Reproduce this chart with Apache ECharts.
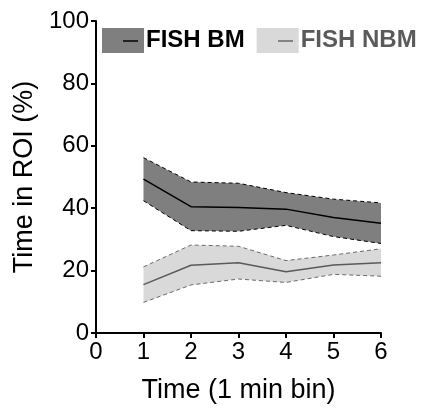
<!DOCTYPE html>
<html lang="en">
<head>
  <meta charset="UTF-8">
  <title>Time in ROI</title>
  <script src="https://cdn.jsdelivr.net/npm/echarts@6/dist/echarts.min.js"></script>
</head>
<body style="margin:0">
  <div id="app" style="width: 428px; height: 410px;"></div>
  <script>
    // x categories (minutes) and values
    var timeBins = ['0', '1', '2', '3', '4', '5', '6']
    var bmMean  = [49.3, 40.5, 40.2, 39.7, 37.0, 35.2]
    var bmUpper = [56.2, 48.4, 48.0, 45.0, 42.9, 41.7]
    var bmLower = [42.4, 32.8, 32.6, 34.5, 30.9, 28.7]
    var nbmMean  = [15.5, 21.7, 22.5, 19.6, 21.8, 22.5]
    var nbmUpper = [21.2, 28.2, 27.8, 23.2, 25.0, 27.0]
    var nbmLower = [9.8, 15.4, 17.3, 16.2, 18.8, 18.2]
    var yTicks = [0, 20, 40, 60, 80, 100]

    // bin 0 has no measurement
    function pad(arr) { return [null].concat(arr) }
    function diff(a, b) { return a.map(function (v, i) { return v - b[i] }) }

    var font = 'Liberation Sans, Arial, sans-serif'

    function band(name, stack, lower, upper, fill, z) {
      return [
        { type: 'line', stack: stack, data: pad(lower), symbol: 'none', silent: true,
          lineStyle: { width: 0 }, z: z },
        { name: name, type: 'line', stack: stack, data: pad(diff(upper, lower)), symbol: 'none',
          itemStyle: { color: fill }, lineStyle: { width: 0 },
          areaStyle: { color: fill, opacity: 1 }, z: z }
      ]
    }
    function edge(data, color, dashed, width) {
      return { type: 'line', data: pad(data), symbol: 'none', z: 5,
        lineStyle: { color: color, width: width, type: dashed ? [4, 3] : 'solid' } }
    }

    var chart = echarts.init(document.getElementById('app'))
    var option = {
      animation: false,
      textStyle: { fontFamily: font },
      grid: { left: 96, right: 47, top: 21, bottom: 77 },
      legend: {
        left: 97, top: 23, itemWidth: 42, itemHeight: 25, itemGap: 12,
        icon: 'rect',
        textStyle: { fontSize: 24, fontWeight: 'bold', padding: [0, 0, 0, -3] },
        itemStyle: { borderWidth: 0 },
        data: [
          { name: 'FISH BM', textStyle: { color: '#000' } },
          { name: 'FISH NBM', textStyle: { color: '#5a5a5a' } }
        ]
      },
      graphic: [
        { type: 'line', shape: { x1: 123, y1: 41, x2: 138, y2: 41 }, style: { stroke: '#000', lineWidth: 1.5 }, z: 100 },
        { type: 'line', shape: { x1: 278, y1: 41, x2: 293, y2: 41 }, style: { stroke: '#666', lineWidth: 1.5 }, z: 100 }
      ],
      xAxis: {
        type: 'category', data: timeBins, boundaryGap: false,
        name: 'Time (1 min bin)', nameLocation: 'middle', nameGap: 44,
        nameTextStyle: { fontSize: 27, color: '#000' },
        axisLine: { lineStyle: { color: '#000', width: 2 } },
        axisTick: { length: 5, lineStyle: { width: 2 } },
        axisLabel: { fontSize: 24, color: '#000', margin: 7 },
        splitLine: { show: false }
      },
      yAxis: {
        type: 'value', min: yTicks[0], max: yTicks[yTicks.length - 1], interval: 20,
        name: 'Time in ROI (%)', nameLocation: 'middle', nameGap: 56,
        nameTextStyle: { fontSize: 27, color: '#000' },
        axisLine: { show: true, lineStyle: { color: '#000', width: 2 } },
        axisTick: { show: true, length: 5, lineStyle: { width: 2 } },
        axisLabel: { fontSize: 24, color: '#000', margin: 7 },
        splitLine: { show: false }
      },
      series: [].concat(
        band('FISH BM', 'bm', bmLower, bmUpper, '#7f7f7f', 2),
        band('FISH NBM', 'nbm', nbmLower, nbmUpper, '#d9d9d9', 2),
        [
          edge(bmUpper, '#000', true, 1),
          edge(bmLower, '#000', true, 1),
          edge(bmMean, '#000', false, 1.5),
          edge(nbmUpper, '#6a6a6a', true, 1),
          edge(nbmLower, '#6a6a6a', true, 1),
          edge(nbmMean, '#5a5a5a', false, 1.5)
        ]
      )
    }
    chart.setOption(option)
  </script>
</body>
</html>
